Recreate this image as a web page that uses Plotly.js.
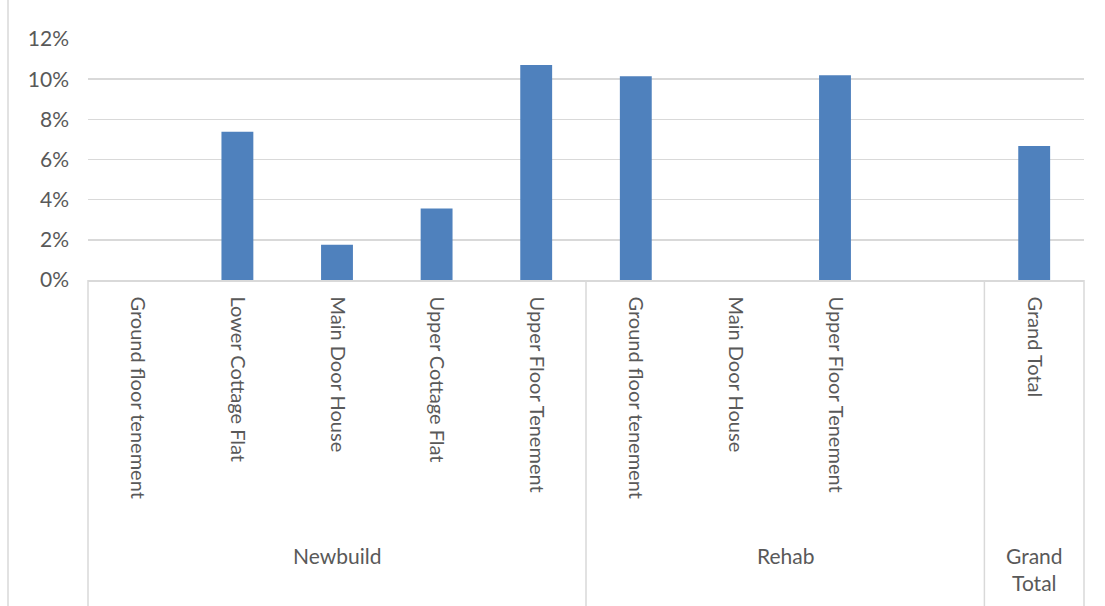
<!DOCTYPE html>
<html><head><meta charset="utf-8">
<script src="https://cdn.plot.ly/plotly-3.0.1.min.js"></script>
<style>html,body{margin:0;padding:0;background:#fff;}#chart{width:1105px;height:606px;}</style>
</head><body><div id="chart"></div>
<script>
// ---- data ----
const groups = ["Newbuild", "Rehab", "Grand<br>Total"];
const groupSizes = [5, 4, 1];
const categories = ["Ground floor tenement", "Lower Cottage Flat", "Main Door House", "Upper Cottage Flat", "Upper Floor Tenement",
                    "Ground floor tenement", "Main Door House", "Upper Floor Tenement", "",
                    "Grand Total"];
const values = [0, 0.0738, 0.0175, 0.0356, 0.1071,
                0.1015, 0, 0.1019, null,
                0.0667];
const yTickVals = [0, 0.02, 0.04, 0.06, 0.08, 0.10, 0.12];

// ---- layout ----
const W = 1105, H = 606;
const M = {l: 88, r: 21, t: 39, b: 326};
const plotH = H - M.t - M.b;
const plotW = W - M.l - M.r;
const FONT = 'Lato, "Open Sans", sans-serif';
const GREY = '#d9d9d9';
const TXT = '#595959';

const xs = categories.map((_, i) => i);
const total = groupSizes.reduce((a, b) => a + b, 0);

const shapes = [];
const annotations = [];
let cum = 0;
const yBottom = -M.b / plotH;
shapes.push({type: 'line', xref: 'paper', yref: 'paper', x0: 0, x1: 0, y0: 0, y1: yBottom,
             line: {color: GREY, width: 1.5}});
groupSizes.forEach((s, gi) => {
  const start = cum;
  cum += s;
  shapes.push({type: 'line', xref: 'paper', yref: 'paper', x0: cum / total, x1: cum / total, y0: 0, y1: yBottom,
               line: {color: GREY, width: 1.5}});
  annotations.push({xref: 'x', yref: 'paper', x: start + (s - 1) / 2, y: -(541 - (H - M.b)) / plotH,
                    yanchor: 'top', xanchor: 'center', showarrow: false, text: groups[gi],
                    font: {family: FONT, size: 21, color: TXT}});
});
// outer chart border on the left
shapes.push({type: 'line', xref: 'paper', yref: 'paper', x0: (8 - M.l) / plotW, x1: (8 - M.l) / plotW,
             y0: yBottom, y1: 1 + M.t / plotH, line: {color: GREY, width: 1.5}});

const trace = {
  type: 'bar', x: xs, y: values,
  marker: {color: '#4f81bd', line: {width: 0}},
  width: 0.32, hoverinfo: 'skip'
};

const layout = {
  width: W, height: H, margin: M,
  paper_bgcolor: '#ffffff', plot_bgcolor: '#ffffff',
  showlegend: false, bargap: 0.68,
  font: {family: FONT, color: TXT, size: 21},
  xaxis: {
    range: [-0.5, total - 0.5], tickmode: 'array', tickvals: xs, ticktext: categories,
    tickangle: 90, showgrid: false, zeroline: false, showline: true, linecolor: GREY, linewidth: 1.5,
    ticks: '', ticklabelstandoff: 11, tickfont: {family: FONT, size: 20, color: TXT}, fixedrange: true
  },
  yaxis: {
    range: [0, 0.12], tickmode: 'array', tickvals: yTickVals, tickformat: '.0%',
    showgrid: true, gridcolor: GREY, gridwidth: 1.5, zeroline: false, showline: false,
    ticks: '', ticklabelstandoff: 18, tickfont: {family: FONT, size: 21, color: TXT}, fixedrange: true
  },
  shapes: shapes, annotations: annotations
};

Plotly.newPlot('chart', [trace], layout, {staticPlot: true, displayModeBar: false});
</script>
</body></html>
